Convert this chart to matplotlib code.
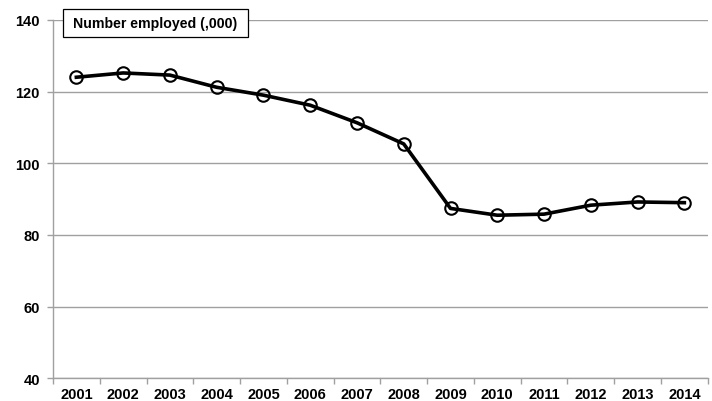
import numpy as np
import matplotlib
matplotlib.use('Agg')
import matplotlib.pyplot as plt
from matplotlib.patches import Rectangle
from matplotlib.ticker import FixedLocator, NullFormatter, FixedFormatter

plt.rcParams['font.family'] = ['Liberation Sans', 'DejaVu Sans']
plt.rcParams['font.weight'] = 'bold'

# data
years = ['2001', '2002', '2003', '2004', '2005', '2006', '2007',
         '2008', '2009', '2010', '2011', '2012', '2013', '2014']
employed = [124.0, 125.2, 124.6, 121.2, 119.0, 116.2, 111.3,
            105.4, 87.4, 85.5, 85.8, 88.3, 89.2, 89.0]
yticks = [40, 60, 80, 100, 120, 140]

fig = plt.figure(figsize=(7.12, 4.02), dpi=100)
ax = fig.add_axes([0.0744, 0.0565, 0.9196, 0.8915])

x = np.arange(len(years))
ax.plot(x, employed, color='black', lw=2.6, marker='o', ms=9,
        mfc='none', mec='black', mew=1.5, zorder=3, clip_on=False)

ax.set_ylim(40, 140)
ax.set_yticks(yticks)
ax.yaxis.grid(True, color='#a0a0a0', lw=1)
ax.set_axisbelow(True)
ax.set_xlim(-0.5, len(years) - 0.5)

# ticks at category edges, labels at centres
ax.xaxis.set_major_locator(FixedLocator(np.arange(len(years) + 1) - 0.5))
ax.xaxis.set_major_formatter(NullFormatter())
ax.xaxis.set_minor_locator(FixedLocator(x))
ax.xaxis.set_minor_formatter(FixedFormatter(years))
ax.tick_params(axis='x', which='major', length=4, color='#a0a0a0', width=1)
ax.tick_params(axis='x', which='minor', length=0, pad=6, labelsize=10.5)
ax.tick_params(axis='y', length=4, color='#a0a0a0', width=1, pad=5.5, labelsize=10.5)
for lab in ax.get_xticklabels(minor=True) + ax.get_yticklabels():
    lab.set_fontweight('bold')

for s in ['top', 'right']:
    ax.spines[s].set_visible(False)
for s in ['left', 'bottom']:
    ax.spines[s].set_color('#a0a0a0')
    ax.spines[s].set_linewidth(1)

# title box
fig.patches.append(Rectangle((63 / 712, 1 - 38 / 402), 185 / 712, 28 / 402,
                             transform=fig.transFigure, facecolor='white',
                             edgecolor='black', lw=0.9, zorder=5))
fig.text(155.5 / 712, 1 - 24 / 402, 'Number employed (,000)', fontsize=10.2,
         fontweight='bold', ha='center', va='center', zorder=6)

fig.savefig('out.png', dpi=100)
